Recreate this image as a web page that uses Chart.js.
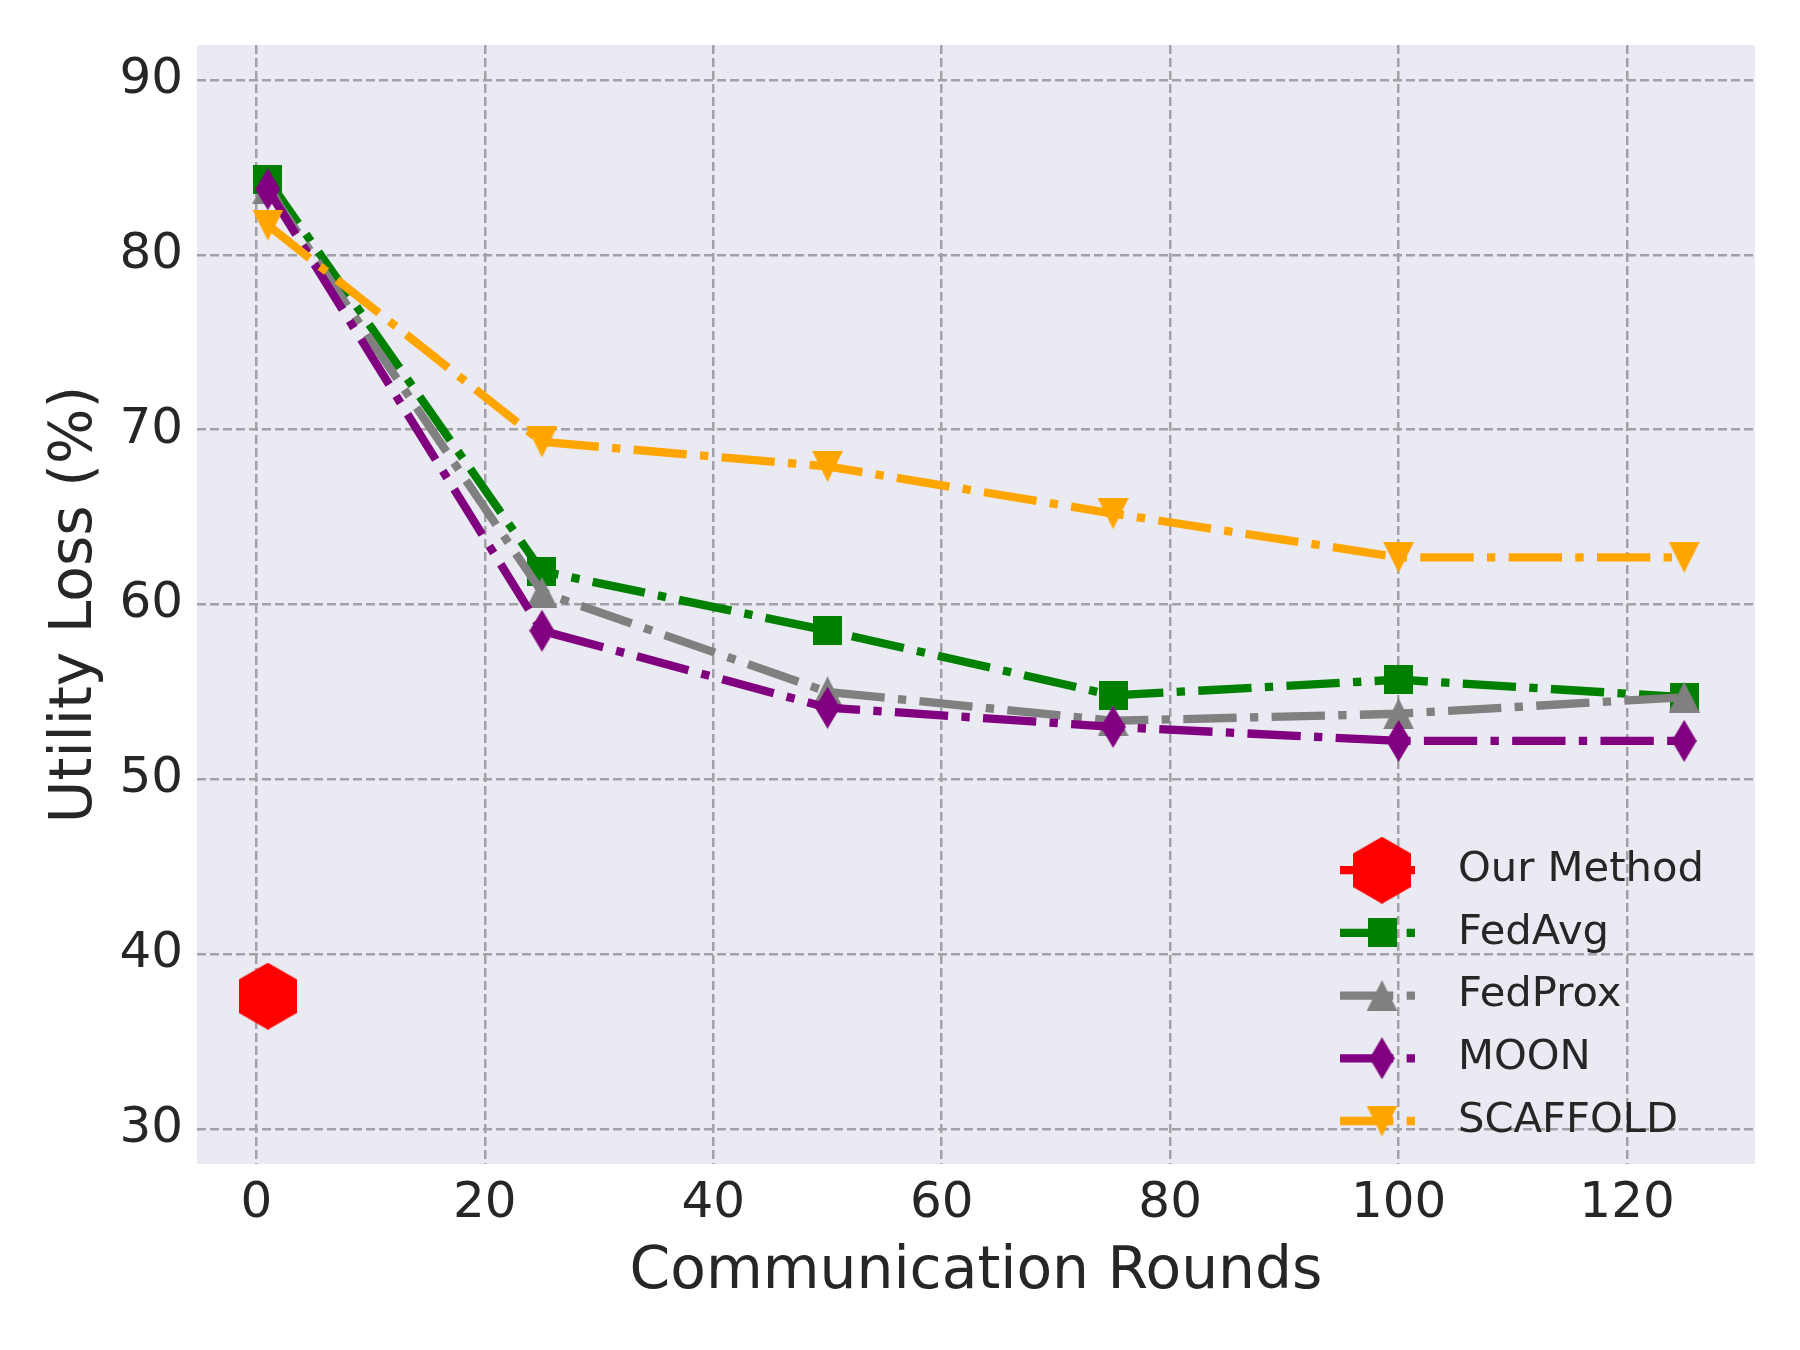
<!DOCTYPE html>
<html>
<head>
<meta charset="utf-8">
<script src="https://cdn.jsdelivr.net/npm/chart.js@4"></script>
<style>
  body { margin: 0; background: #ffffff; }
  canvas { display: block; }
</style>
</head>
<body>
<canvas id="lossChart" width="1800" height="1350" style="width:1800px;height:1350px"></canvas>
<script>
// Utility loss vs communication rounds
const rounds = [1, 25, 50, 75, 100, 125];
const fedAvg = [84.3, 61.9, 58.5, 54.8, 55.7, 54.7];
const fedProx = [83.8, 60.7, 55.0, 53.35, 53.75, 54.7];
const moon = [83.75, 58.5, 54.1, 53.0, 52.2, 52.2];
const scaffold = [81.7, 69.3, 67.9, 65.2, 62.7, 62.7];
const ourRounds = [1];
const ourMethod = [37.6];

const xTicks = [0, 20, 40, 60, 80, 100, 120];
const yTicks = [30, 40, 50, 60, 70, 80, 90];

const textColor = '#262626';
const lw = 8.33; // 2pt at 300dpi
const dashDot = [6.4 * lw, 1.6 * lw, 1.0 * lw, 1.6 * lw];

// build a marker glyph on a small canvas
function makeMarker(w, h, color, shape) {
    const c = document.createElement('canvas');
    c.width = w;
    c.height = h;
    const g = c.getContext('2d');
    g.fillStyle = color;
    g.beginPath();
    shape(g, w, h);
    g.closePath();
    g.fill();
    return c;
}

const square = (g, w, h) => g.rect(0, 0, w, h);
const triUp = (g, w, h) => { g.moveTo(w / 2, 0); g.lineTo(w, h); g.lineTo(0, h); };
const triDown = (g, w, h) => { g.moveTo(0, 0); g.lineTo(w, 0); g.lineTo(w / 2, h); };
const thinDiamond = (g, w, h) => { g.moveTo(w / 2, 0); g.lineTo(w, h / 2); g.lineTo(w / 2, h); g.lineTo(0, h / 2); };
const hexagon = (g, w, h) => {
    const r = h / 2;
    for (let i = 0; i < 6; i++) {
        const a = (-90 + 60 * i) * Math.PI / 180;
        const px = w / 2 + r * Math.cos(a);
        const py = h / 2 + r * Math.sin(a);
        if (i === 0) g.moveTo(px, py); else g.lineTo(px, py);
    }
};

const markers = {
    ours: makeMarker(58, 67, '#ff0000', hexagon),
    fedavg: makeMarker(29, 29, '#008000', square),
    fedprox: makeMarker(31, 31, '#808080', triUp),
    moon: makeMarker(25, 42, '#800080', thinDiamond),
    scaffold: makeMarker(31, 31, '#ffa500', triDown)
};

function toPoints(xs, ys) {
    return xs.map((x, i) => ({ x: x, y: ys[i] }));
}

function series(label, xs, ys, color, marker, order, dashed) {
    return {
        label: label,
        data: toPoints(xs, ys),
        borderColor: color,
        backgroundColor: color,
        borderWidth: lw,
        borderDash: dashed ? dashDot : [],
        borderCapStyle: 'butt',
        borderJoinStyle: 'round',
        tension: 0,
        pointStyle: marker,
        pointRadius: 20,
        pointBorderWidth: 0,
        showLine: xs.length > 1,
        order: order
    };
}

// grey plot background like seaborn darkgrid
const plotBackground = {
    id: 'plotBackground',
    beforeDraw(chart) {
        const { ctx, chartArea } = chart;
        ctx.save();
        ctx.fillStyle = '#ffffff';
        ctx.fillRect(0, 0, chart.width, chart.height);
        ctx.fillStyle = '#eaeaf2';
        ctx.fillRect(chartArea.left, chartArea.top, chartArea.width, chartArea.height);
        ctx.restore();
    }
};

// legend inside the plot, lower right, with line + marker handles
const innerLegend = {
    id: 'innerLegend',
    afterDraw(chart) {
        const { ctx, chartArea } = chart;
        const sets = chart.data.datasets;
        const x0 = chartArea.right - 415;
        const x1 = x0 + 75;
        const mx = x0 + 42;
        const tx = x0 + 118;
        const rowGap = 62.7;
        const lastY = chartArea.bottom - 43;
        ctx.save();
        sets.forEach((ds, i) => {
            const y = lastY - (sets.length - 1 - i) * rowGap;
            ctx.strokeStyle = ds.borderColor;
            ctx.lineWidth = ds.borderWidth;
            ctx.lineCap = 'butt';
            ctx.setLineDash(ds.borderDash);
            ctx.beginPath();
            ctx.moveTo(x0, y);
            ctx.lineTo(x1, y);
            ctx.stroke();
            ctx.setLineDash([]);
            const m = ds.pointStyle;
            ctx.drawImage(m, mx - m.width / 2, y - m.height / 2);
            ctx.fillStyle = textColor;
            ctx.font = '41.7px "DejaVu Sans"';
            ctx.textAlign = 'left';
            ctx.textBaseline = 'middle';
            ctx.fillText(ds.label, tx, y);
        });
        ctx.restore();
    }
};

Chart.defaults.font.family = '"DejaVu Sans", sans-serif';
Chart.defaults.color = textColor;

const gridStyle = {
    color: '#a2a2a6',
    lineWidth: 2.5,
    drawTicks: false
};

new Chart(document.getElementById('lossChart').getContext('2d'), {
    type: 'line',
    data: {
        datasets: [
            series('Our Method', ourRounds, ourMethod, '#ff0000', markers.ours, 5, false),
            series('FedAvg', rounds, fedAvg, '#008000', markers.fedavg, 4, true),
            series('FedProx', rounds, fedProx, '#808080', markers.fedprox, 3, true),
            series('MOON', rounds, moon, '#800080', markers.moon, 2, true),
            series('SCAFFOLD', rounds, scaffold, '#ffa500', markers.scaffold, 1, true)
        ]
    },
    options: {
        responsive: false,
        devicePixelRatio: 1,
        animation: false,
        layout: { padding: { left: 0, top: 45, right: 45, bottom: 0 } },
        plugins: {
            legend: { display: false },
            tooltip: { enabled: false }
        },
        scales: {
            x: {
                type: 'linear',
                min: -5.2,
                max: 131.2,
                afterBuildTicks: axis => { axis.ticks = xTicks.map(v => ({ value: v })); },
                afterFit: axis => { axis.height = 186; },
                grid: gridStyle,
                border: { display: false, dash: [9, 4] },
                ticks: { padding: 10, font: { size: 50 }, color: textColor },
                title: {
                    display: true,
                    text: 'Communication Rounds',
                    font: { size: 58.3 },
                    color: textColor,
                    padding: { top: 0, bottom: 42 }
                }
            },
            y: {
                type: 'linear',
                min: 28,
                max: 92,
                afterBuildTicks: axis => { axis.ticks = yTicks.map(v => ({ value: v })); },
                afterFit: axis => { axis.width = 197; },
                grid: gridStyle,
                border: { display: false, dash: [9, 4] },
                ticks: { padding: 14, font: { size: 50 }, color: textColor },
                title: {
                    display: true,
                    text: 'Utility Loss (%)',
                    font: { size: 58.3 },
                    color: textColor,
                    padding: { top: 41, bottom: 0 }
                }
            }
        }
    },
    plugins: [plotBackground, innerLegend]
});
</script>
</body>
</html>
